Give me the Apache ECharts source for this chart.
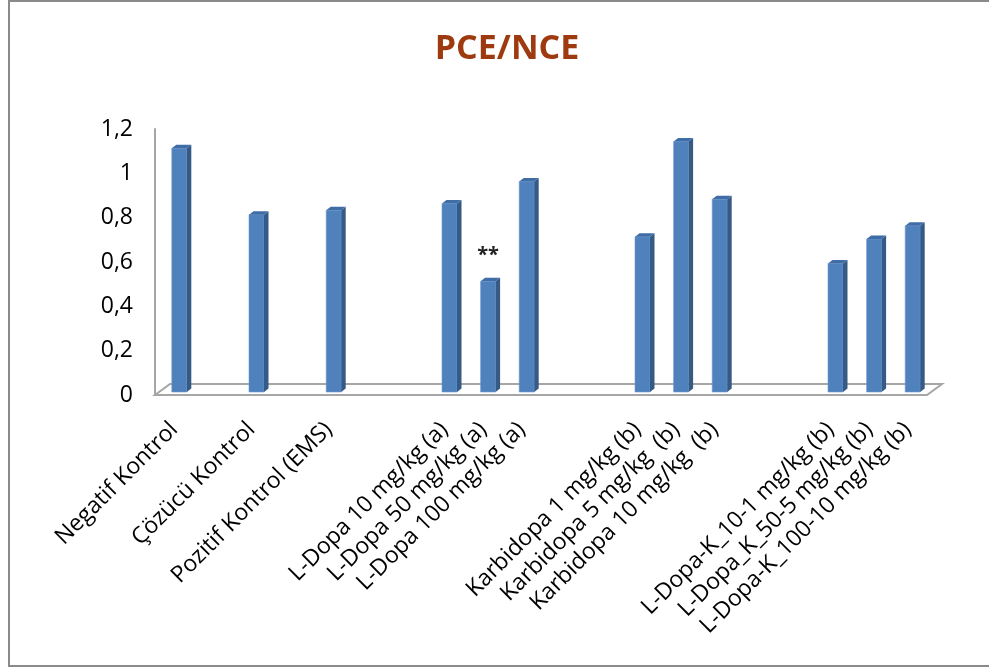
<!DOCTYPE html>
<html>
<head>
<meta charset="utf-8">
<script src="https://cdn.jsdelivr.net/npm/echarts@6/dist/echarts.min.js"></script>
<style>
  html, body { margin: 0; padding: 0; background: #fff; }
  #chart { width: 989px; height: 669px; }
</style>
</head>
<body>
<div id="chart"></div>
<script>
// Category slots; empty strings are spacer slots between treatment groups
const categories = [
  'Negatif Kontrol', '', 'Çözücü Kontrol', '', 'Pozitif Kontrol (EMS)', '', '',
  'L-Dopa 10 mg/kg (a)', 'L-Dopa 50 mg/kg (a)', 'L-Dopa 100 mg/kg (a)', '', '',
  'Karbidopa 1 mg/kg (b)', 'Karbidopa 5 mg/kg  (b)', 'Karbidopa 10 mg/kg  (b)', '', '',
  'L-Dopa-K_10-1 mg/kg (b)', 'L-Dopa_K_50-5 mg/kg (b)', 'L-Dopa-K_100-10 mg/kg (b)'
];
// PCE/NCE ratio per slot (null = spacer)
const values = [
  1.10, null, 0.80, null, 0.82, null, null,
  0.85, 0.50, 0.95, null, null,
  0.70, 1.13, 0.87, null, null,
  0.58, 0.69, 0.75
];
// Significance markers per slot
const significance = [
  '', '', '', '', '', '', '',
  '', '**', '', '', '',
  '', '', '', '', '',
  '', '', ''
];
const yTicks = [0, 0.2, 0.4, 0.6, 0.8, 1, 1.2];

const chart = echarts.init(document.getElementById('chart'));

const FONT = '"Open Sans", "DejaVu Sans", sans-serif';
const DEPTH_X = 5, DEPTH_Y = -3;   // bars stand half-way into the floor depth
const SIDE = 4.5, TOP = 3.5;       // 3D side/top face size
const BAR_W = 15;

function renderBar(params, api) {
  const v = api.value(1);
  if (v === null || v === undefined || isNaN(v)) return;
  const idx = api.value(0);
  const top = api.coord([idx, v]);
  const base = api.coord([idx, 0]);
  const cx = top[0] + DEPTH_X;
  const yt = top[1] + DEPTH_Y;
  const yb = base[1] + DEPTH_Y;
  const x0 = cx - BAR_W / 2, x1 = cx + BAR_W / 2;
  const children = [
    { type: 'rect', shape: { x: x0, y: yt, width: BAR_W, height: yb - yt },
      style: { fill: '#4F81BD', stroke: '#6f9bd0', lineWidth: 0.6 } },
    { type: 'polygon', shape: { points: [[x1, yt], [x1 + SIDE, yt - TOP], [x1 + SIDE, yb - TOP], [x1, yb]] },
      style: { fill: '#355A86' } },
    { type: 'polygon', shape: { points: [[x0, yt], [x1, yt], [x1 + SIDE, yt - TOP], [x0 + SIDE, yt - TOP]] },
      style: { fill: '#3F6DA6' } }
  ];
  const mark = significance[idx];
  if (mark) {
    children.push({ type: 'text', style: {
      text: mark, x: cx, y: yt - 26, align: 'center', verticalAlign: 'middle',
      font: 'bold 20px ' + FONT, fill: '#222' } });
  }
  return { type: 'group', children };
}

// Floor slab under the bars, drawn from the grid rectangle
function renderFloor(params, api) {
  const cs = params.coordSys;
  const xl = cs.x, xr = cs.x + cs.width, yf = cs.y + cs.height;
  const dx = 15, dy = -11;
  return {
    type: 'polygon',
    shape: { points: [[xl, yf], [xr, yf], [xr + dx, yf + dy], [xl + dx, yf + dy]] },
    style: { fill: '#ffffff', stroke: '#a6a6a6', lineWidth: 2 },
    z2: -1
  };
}

chart.setOption({
  backgroundColor: '#ffffff',
  animation: false,
  title: {
    text: 'PCE/NCE',
    left: 502, top: 27, textAlign: 'center',
    textStyle: { color: '#9E3A0F', fontFamily: FONT, fontWeight: 'bold', fontSize: 34 }
  },
  graphic: [{
    type: 'rect', shape: { x: 9, y: 1, width: 990, height: 665 },
    style: { fill: 'none', stroke: '#8a8a8a', lineWidth: 2 }, silent: true
  }],
  grid: { left: 155, right: 62, top: 129, bottom: 274 },
  xAxis: {
    type: 'category',
    data: categories,
    axisLine: { show: false },
    axisTick: { show: false },
    axisLabel: {
      interval: 0, rotate: 45, margin: 31,
      fontFamily: FONT, fontSize: 23, color: '#000'
    }
  },
  yAxis: {
    type: 'value',
    min: yTicks[0], max: yTicks[yTicks.length - 1], interval: 0.2,
    splitLine: { show: false },
    axisTick: { show: false },
    axisLine: { show: true, lineStyle: { color: '#a6a6a6', width: 2 } },
    axisLabel: {
      margin: 22, fontFamily: FONT, fontSize: 23, color: '#000',
      formatter: v => String(Math.round(v * 10) / 10).replace('.', ',')
    }
  },
  series: [
    { type: 'custom', renderItem: renderFloor, data: [[0, 0]], z: 1, silent: true },
    {
      type: 'custom',
      renderItem: renderBar,
      data: values.map((v, i) => [i, v]),
      encode: { x: 0, y: 1 },
      z: 2
    }
  ]
});
</script>
</body>
</html>
